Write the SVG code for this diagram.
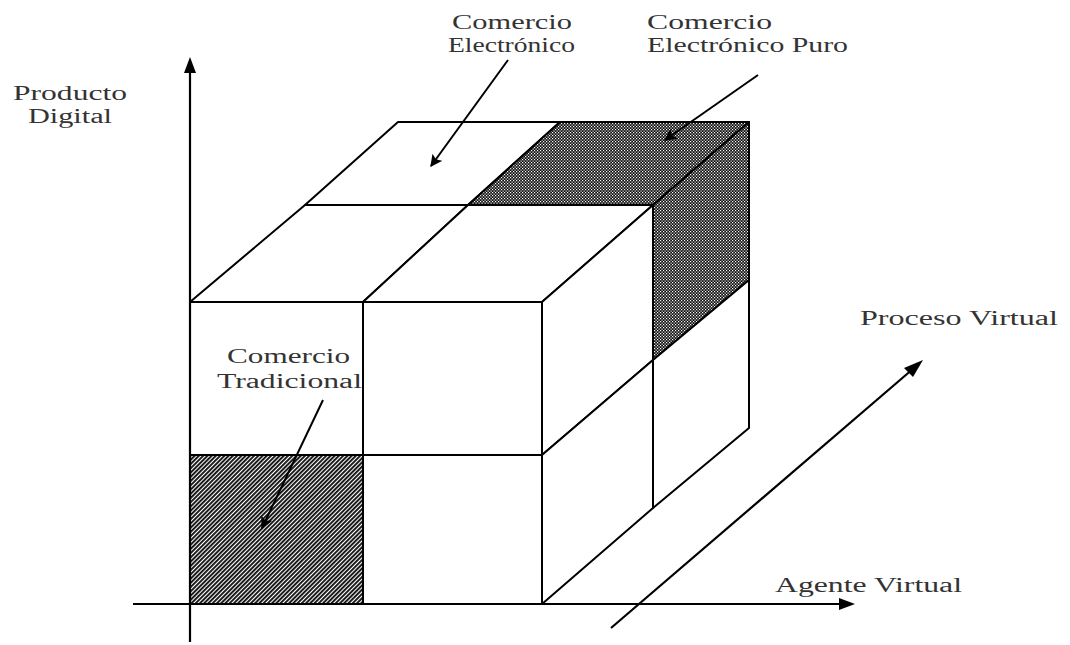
<svg xmlns="http://www.w3.org/2000/svg" width="1070" height="645" viewBox="0 0 1070 645">
  <defs>
    <pattern id="dots" width="3" height="3" patternUnits="userSpaceOnUse">
      <rect width="3" height="3" fill="#111"/>
      <rect x="0" y="0" width="1.2" height="1.2" fill="#fff"/>
      <rect x="1.5" y="1.5" width="1.2" height="1.2" fill="#fff"/>
    </pattern>
    <pattern id="hatch" width="3" height="3" patternUnits="userSpaceOnUse" patternTransform="rotate(45)">
      <rect width="3" height="3" fill="#fff"/>
      <rect x="0" y="0" width="1.9" height="3" fill="#111"/>
    </pattern>
    <marker id="ah" viewBox="0 0 10 10" refX="9" refY="5" markerWidth="14" markerHeight="12" markerUnits="userSpaceOnUse" orient="auto">
      <path d="M0,0 L10,5 L0,10 L2,5 Z" fill="#000"/>
    </marker>
  </defs>
  <style>
    .edge { fill: none; stroke: #000; stroke-width: 2; stroke-linejoin: round; }
    .face { stroke: #000; stroke-width: 2; stroke-linejoin: round; }
    .axis { fill: none; stroke: #000; stroke-width: 2.2; }
    .lead { fill: none; stroke: #000; stroke-width: 2; marker-end: url(#ah); }
    .lbl { font-family: "Liberation Serif", "DejaVu Serif", serif; font-size: 20px; fill: #333; }
  </style>

  <rect width="1070" height="645" fill="#fff"/>

  <g id="cube">
    <!-- top face, back row -->
    <polygon id="top-back-left" class="face" fill="#fff" points="305,205 468,205 560,122 398,122"/>
    <polygon id="top-back-right" class="face" fill="url(#dots)" points="468,205 653,205 749,122 560,122"/>
    <!-- top face, front row -->
    <polygon id="top-front-left" class="face" fill="#fff" points="190,302 363,302 468,205 305,205"/>
    <polygon id="top-front-right" class="face" fill="#fff" points="363,302 542,302 653,205 468,205"/>
    <!-- front face -->
    <rect id="front-tl" class="face" fill="#fff" x="190" y="302" width="173" height="153"/>
    <rect id="front-tr" class="face" fill="#fff" x="363" y="302" width="179" height="153"/>
    <rect id="front-bl" class="face" fill="url(#hatch)" x="190" y="455" width="173" height="149"/>
    <rect id="front-br" class="face" fill="#fff" x="363" y="455" width="179" height="149"/>
    <!-- right face, front half -->
    <polygon id="right-front-top" class="face" fill="#fff" points="542,302 653,205 653,360 542,455"/>
    <polygon id="right-front-bottom" class="face" fill="#fff" points="542,455 653,360 653,508 542,604"/>
    <!-- right face, back half -->
    <polygon id="right-back-top" class="face" fill="url(#dots)" points="653,205 749,122 749,280 653,360"/>
    <polygon id="right-back-bottom" class="face" fill="#fff" points="653,360 749,280 749,428 653,508"/>
  </g>

  <g id="connectors">
    <line id="axis-producto" class="axis" x1="190" y1="642" x2="190" y2="70"/>
    <polygon points="190,57 184,73 196,73" fill="#000"/>
    <line id="axis-agente" class="axis" x1="133" y1="604" x2="842" y2="604"/>
    <polygon points="855,604 839,598 839,610" fill="#000"/>
    <line id="axis-proceso" class="axis" x1="611" y1="628" x2="914" y2="368"/>
    <polygon points="923,360 904,368 913,377" fill="#000"/>
    <line id="lead-electronico" class="lead" x1="508" y1="60" x2="431" y2="166"/>
    <line id="lead-puro" class="lead" x1="758" y1="75" x2="665" y2="140"/>
    <line id="lead-tradicional" class="lead" x1="323" y1="400" x2="262" y2="528"/>
  </g>

  <g id="labels">
    <g id="label-producto-digital">
      <text class="lbl" x="13" y="100" textLength="114" lengthAdjust="spacingAndGlyphs">Producto</text>
      <text class="lbl" x="28" y="123" textLength="84" lengthAdjust="spacingAndGlyphs">Digital</text>
    </g>
    <g id="label-comercio-electronico">
      <text class="lbl" x="452" y="29" textLength="120" lengthAdjust="spacingAndGlyphs">Comercio</text>
      <text class="lbl" x="448" y="52" textLength="127" lengthAdjust="spacingAndGlyphs">Electrónico</text>
    </g>
    <g id="label-comercio-electronico-puro">
      <text class="lbl" x="647" y="29" textLength="125" lengthAdjust="spacingAndGlyphs">Comercio</text>
      <text class="lbl" x="647" y="52" textLength="201" lengthAdjust="spacingAndGlyphs">Electrónico Puro</text>
    </g>
    <g id="label-comercio-tradicional">
      <text class="lbl" x="227" y="363" textLength="123" lengthAdjust="spacingAndGlyphs">Comercio</text>
      <text class="lbl" x="217" y="388" textLength="145" lengthAdjust="spacingAndGlyphs">Tradicional</text>
    </g>
    <text id="label-proceso-virtual" class="lbl" x="860" y="325" textLength="198" lengthAdjust="spacingAndGlyphs">Proceso Virtual</text>
    <text id="label-agente-virtual" class="lbl" x="775" y="592" textLength="187" lengthAdjust="spacingAndGlyphs">Agente Virtual</text>
  </g>
</svg>
